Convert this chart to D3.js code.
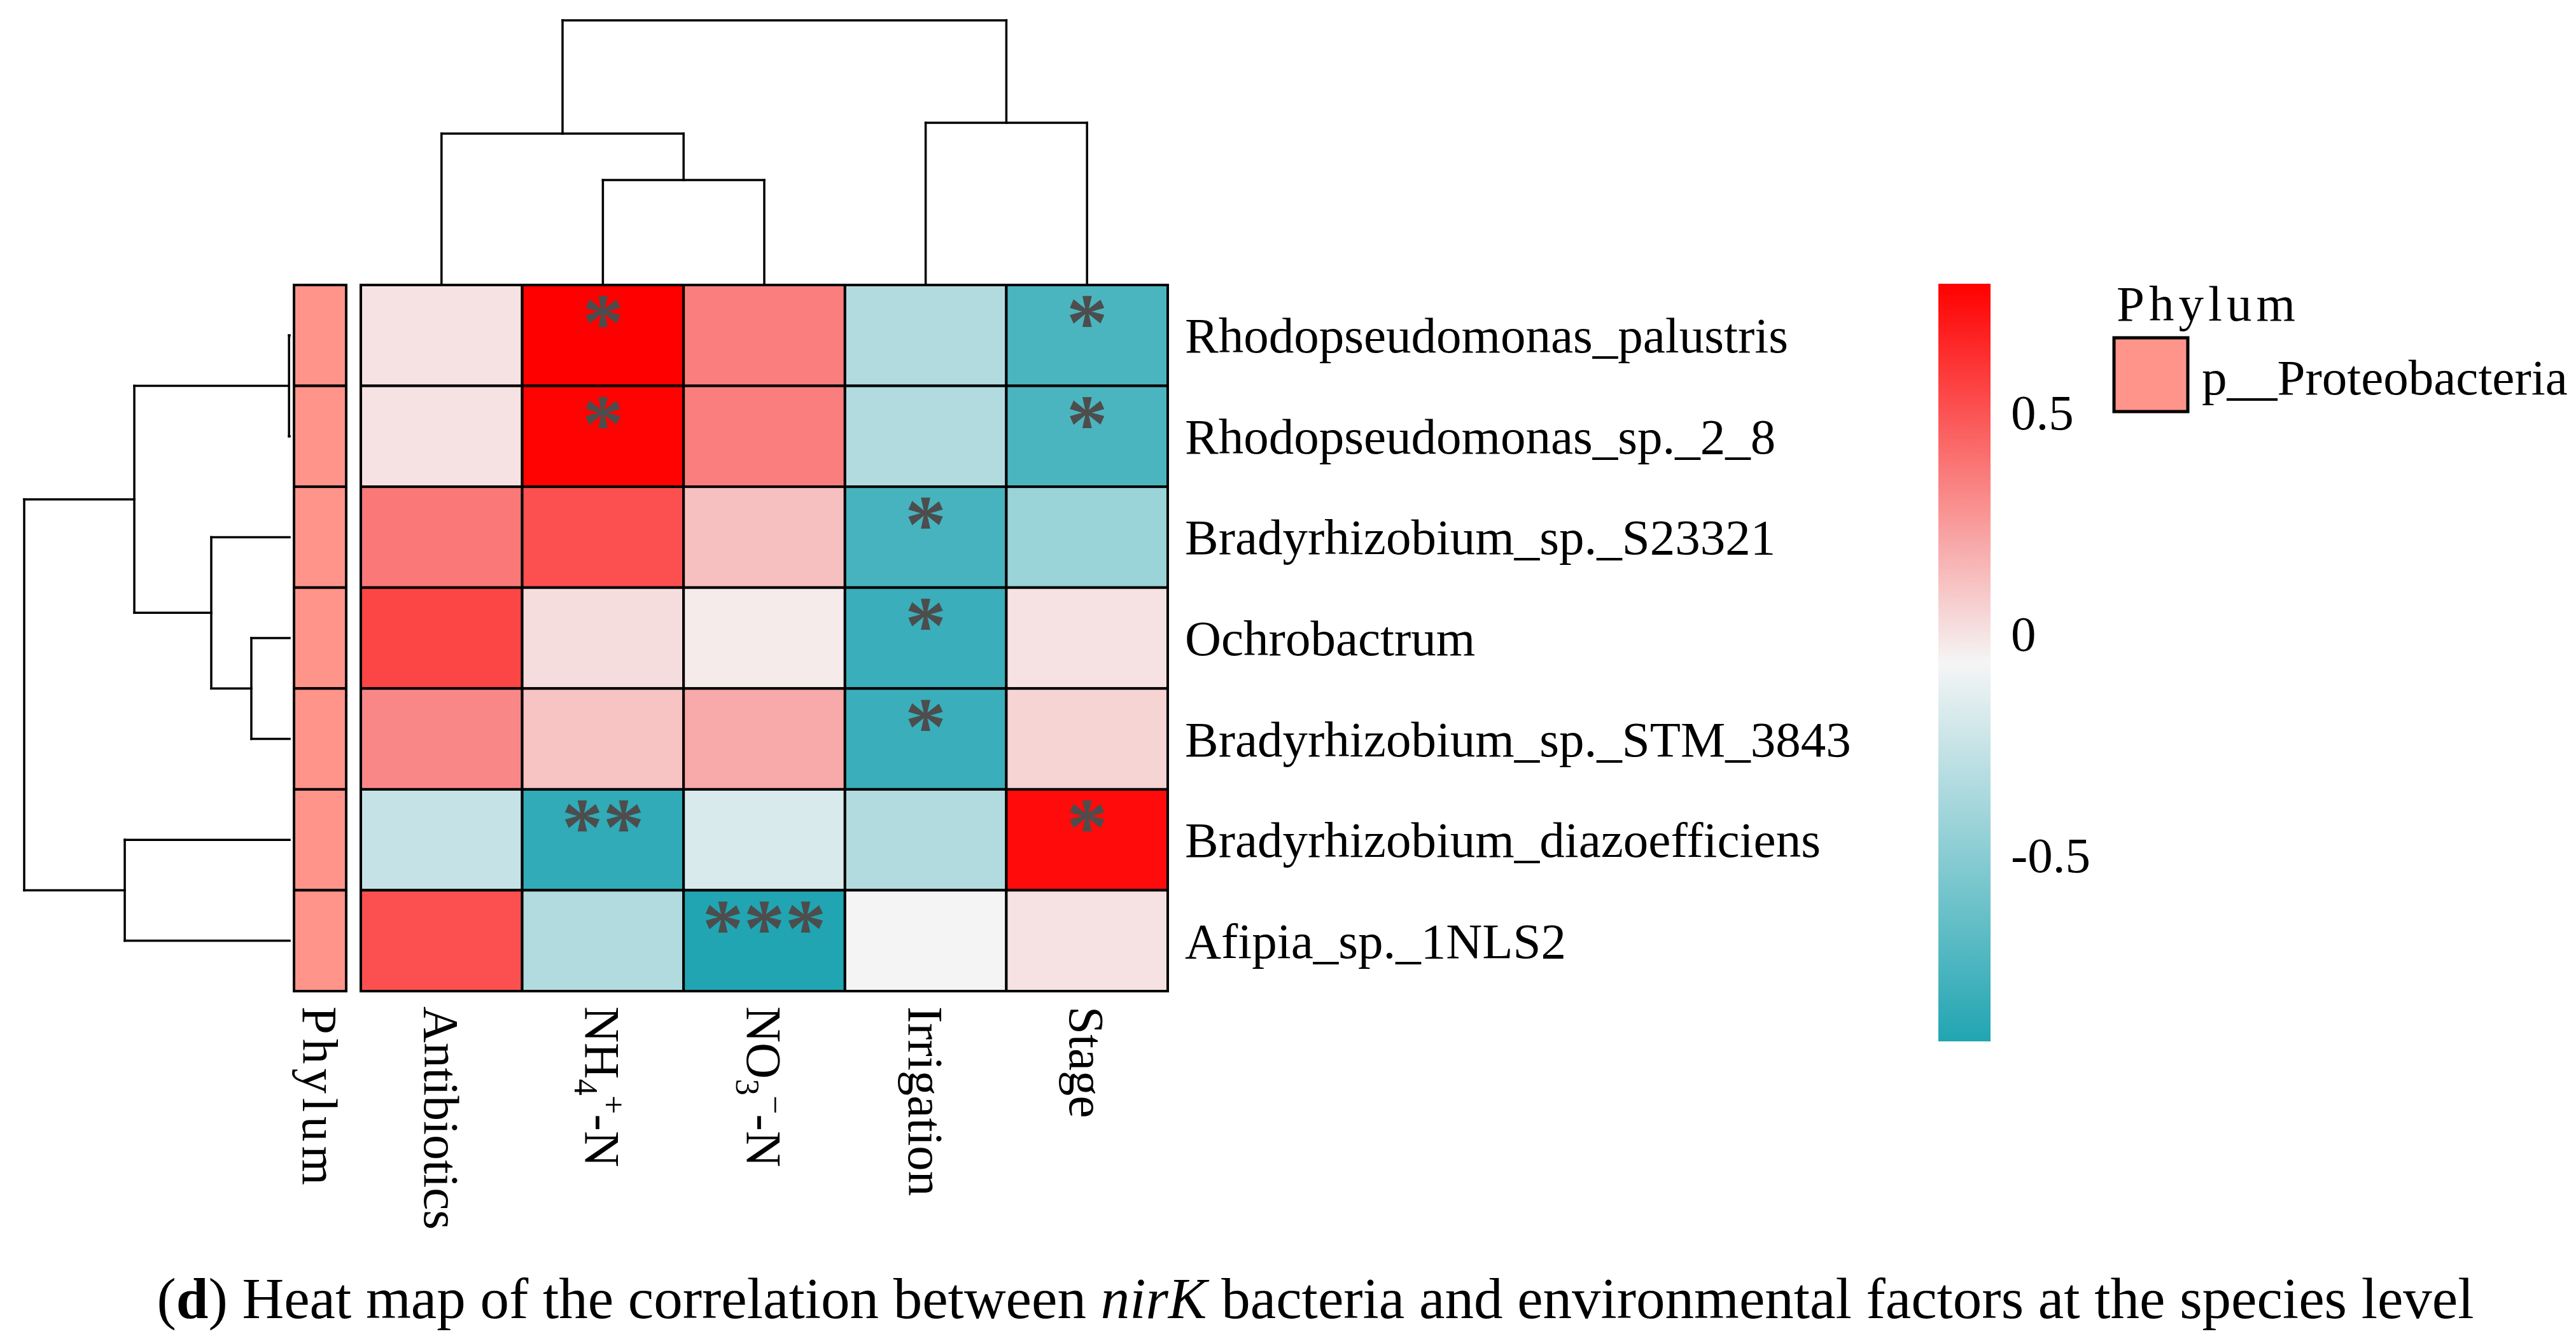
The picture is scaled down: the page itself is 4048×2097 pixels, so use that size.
<!DOCTYPE html>
<html>
<head>
<meta charset="utf-8">
<script src="https://cdnjs.cloudflare.com/ajax/libs/d3/7.8.5/d3.min.js"></script>
<style>
body { margin: 0; background: #fff; }
text { font-family: "Liberation Serif", "Times New Roman", serif; }
</style>
</head>
<body>
<div id="chart"></div>
<script>
var species = ["Rhodopseudomonas_palustris", "Rhodopseudomonas_sp._2_8", "Bradyrhizobium_sp._S23321",
               "Ochrobactrum", "Bradyrhizobium_sp._STM_3843", "Bradyrhizobium_diazoefficiens", "Afipia_sp._1NLS2"];
var factors = ["Antibiotics", "NH4", "NO3", "Irrigation", "Stage"];

// correlation values, rows = species, cols = factors
var values = [[ 0.00,  0.79,  0.35, -0.34, -0.75],
              [ 0.00,  0.78,  0.35, -0.34, -0.75],
              [ 0.37,  0.51,  0.12, -0.77, -0.43],
              [ 0.55,  0.02, -0.03, -0.82,  0.00],
              [ 0.32,  0.11,  0.20, -0.82,  0.05],
              [-0.26, -0.86, -0.18, -0.34,  0.75],
              [ 0.51, -0.34, -0.92, -0.06,  0.00]];

var stars = [["", "*", "", "", "*"],
             ["", "*", "", "", "*"],
             ["", "", "", "*", ""],
             ["", "", "", "*", ""],
             ["", "", "", "*", ""],
             ["", "**", "", "", "*"],
             ["", "", "***", "", ""]];

var phylum = ["p__Proteobacteria", "p__Proteobacteria", "p__Proteobacteria", "p__Proteobacteria",
              "p__Proteobacteria", "p__Proteobacteria", "p__Proteobacteria"];
var phylumLevels = ["p__Proteobacteria"];
var barTicks = [0.5, 0, -0.5];

// clustering trees, merge heights relative to the root
var colTree = {h: 1, c: [{h: 0.571, c: [{leaf: 0}, {h: 0.395, c: [{leaf: 1}, {leaf: 2}]}]},
                         {h: 0.612, c: [{leaf: 3}, {leaf: 4}]}]};
var rowTree = {h: 1, c: [{h: 0.585, c: [{h: 0.002, c: [{leaf: 0}, {leaf: 1}]},
                                        {h: 0.295, c: [{leaf: 2}, {h: 0.144, c: [{leaf: 3}, {leaf: 4}]}]}]},
                         {h: 0.621, c: [{leaf: 5}, {leaf: 6}]}]};

var W = 4048, H = 2097;
var svg = d3.select("#chart").append("svg")
    .attr("width", W).attr("height", H);

var x = d3.scaleBand().domain(factors).range([567, 1835]);
var y = d3.scaleBand().domain(species).range([448, 1558]);
var px = d3.scaleBand().domain(["Phylum"]).range([462, 544]);

var flat = d3.merge(values);
var vmin = d3.min(flat), vmax = d3.max(flat);
var color = d3.scaleLinear()
    .domain([vmin, (vmin + vmax) / 2, vmax])
    .range(["#21A5B2", "#F5F5F5", "#FF0000"]);
var phylumColor = d3.scaleOrdinal().domain(phylumLevels).range(["#FF948A"]);

// heat cells
var cells = [];
values.forEach(function (row, i) {
    row.forEach(function (v, j) {
        cells.push({r: species[i], c: factors[j], v: v, s: stars[i][j]});
    });
});

svg.append("g").selectAll("rect")
    .data(cells)
    .enter().append("rect")
    .attr("x", function (d) { return x(d.c); })
    .attr("y", function (d) { return y(d.r); })
    .attr("width", x.bandwidth())
    .attr("height", y.bandwidth())
    .attr("fill", function (d) { return color(d.v); })
    .attr("stroke", "#000")
    .attr("stroke-width", 4);

svg.append("g").selectAll("text")
    .data(cells.filter(function (d) { return d.s; }))
    .enter().append("text")
    .attr("x", function (d) { return x(d.c) + x.bandwidth() / 2; })
    .attr("y", function (d) { return y(d.r) + y.bandwidth() / 2 + 24; })
    .attr("text-anchor", "middle")
    .attr("font-size", 130)
    .attr("font-weight", "bold")
    .attr("fill", "#4D4D4D")
    .text(function (d) { return d.s; });

// phylum annotation column
svg.append("g").selectAll("rect")
    .data(phylum)
    .enter().append("rect")
    .attr("x", px("Phylum"))
    .attr("y", function (d, i) { return y(species[i]); })
    .attr("width", px.bandwidth())
    .attr("height", y.bandwidth())
    .attr("fill", function (d) { return phylumColor(d); })
    .attr("stroke", "#000")
    .attr("stroke-width", 4);

// row labels
svg.append("g").selectAll("text")
    .data(species)
    .enter().append("text")
    .attr("x", 1862)
    .attr("y", function (d) { return y(d) + y.bandwidth() / 2 + 27; })
    .attr("font-size", 79)
    .text(function (d) { return d; });

// column labels (rotated)
var colParts = {
    "Antibiotics": [["Antibiotics", 0, 79]],
    "NH4": [["NH", 0, 79], ["4", 17, 52], ["+", -44, 52], ["-N", 27, 79]],
    "NO3": [["NO", 0, 79], ["3", 17, 52], ["\u2212", -44, 52], ["-N", 27, 79]],
    "Irrigation": [["Irrigation", 0, 79]],
    "Stage": [["Stage", 0, 79]]
};
var colLab = svg.append("g").selectAll("text")
    .data(factors)
    .enter().append("text")
    .attr("transform", function (d) {
        return "translate(" + (x(d) + x.bandwidth() / 2 - 27) + ",1582) rotate(90)";
    });
colLab.selectAll("tspan")
    .data(function (d) { return colParts[d]; })
    .enter().append("tspan")
    .attr("dy", function (p) { return p[1]; })
    .attr("font-size", function (p) { return p[2]; })
    .text(function (p) { return p[0]; });

svg.append("text")
    .attr("transform", "translate(" + (px("Phylum") + px.bandwidth() / 2 - 27) + ",1582) rotate(90)")
    .attr("font-size", 79)
    .attr("letter-spacing", 7)
    .text("Phylum");

// dendrograms
function walk(node, segs, pos) {
    if (node.leaf !== undefined) return {p: pos(node.leaf), h: 0};
    var kids = node.c.map(function (k) { return walk(k, segs, pos); });
    kids.forEach(function (k) { segs.push({p1: k.p, p2: k.p, h1: k.h, h2: node.h}); });
    segs.push({p1: kids[0].p, p2: kids[1].p, h1: node.h, h2: node.h});
    return {p: (kids[0].p + kids[1].p) / 2, h: node.h};
}

var colH = d3.scaleLinear().domain([0, 1]).range([447, 32]);
var colSegs = [];
walk(colTree, colSegs, function (i) { return x(factors[i]) + x.bandwidth() / 2; });
svg.append("g").selectAll("line")
    .data(colSegs)
    .enter().append("line")
    .attr("x1", function (d) { return d.p1; })
    .attr("x2", function (d) { return d.p2; })
    .attr("y1", function (d) { return colH(d.h1); })
    .attr("y2", function (d) { return colH(d.h2); })
    .attr("stroke", "#000")
    .attr("stroke-width", 3.5)
    .attr("stroke-linecap", "square");

var rowH = d3.scaleLinear().domain([0, 1]).range([455, 38]);
var rowSegs = [];
walk(rowTree, rowSegs, function (i) { return y(species[i]) + y.bandwidth() / 2; });
svg.append("g").selectAll("line")
    .data(rowSegs)
    .enter().append("line")
    .attr("y1", function (d) { return d.p1; })
    .attr("y2", function (d) { return d.p2; })
    .attr("x1", function (d) { return rowH(d.h1); })
    .attr("x2", function (d) { return rowH(d.h2); })
    .attr("stroke", "#000")
    .attr("stroke-width", 3.5)
    .attr("stroke-linecap", "square");

// colour bar
var barY = d3.scaleLinear().domain([vmin, vmax]).range([1637, 446]);
var grad = svg.append("defs").append("linearGradient")
    .attr("id", "bar").attr("x1", 0).attr("x2", 0).attr("y1", 1).attr("y2", 0);
grad.selectAll("stop")
    .data(color.domain())
    .enter().append("stop")
    .attr("offset", function (d) { return (d - vmin) / (vmax - vmin); })
    .attr("stop-color", function (d) { return color(d); });
svg.append("rect")
    .attr("x", 3046).attr("y", barY(vmax))
    .attr("width", 82).attr("height", barY(vmin) - barY(vmax))
    .attr("fill", "url(#bar)");
svg.append("g").selectAll("text")
    .data(barTicks)
    .enter().append("text")
    .attr("x", 3160)
    .attr("y", function (d) { return barY(d) + 27; })
    .attr("font-size", 79)
    .text(function (d) { return d; });

// phylum legend
svg.append("text")
    .attr("x", 3326).attr("y", 504)
    .attr("font-size", 79)
    .attr("letter-spacing", 7)
    .text("Phylum");
var leg = svg.append("g").selectAll("g")
    .data(phylumLevels)
    .enter().append("g");
leg.append("rect")
    .attr("x", 3322).attr("y", 531)
    .attr("width", 116).attr("height", 116)
    .attr("fill", function (d) { return phylumColor(d); })
    .attr("stroke", "#000")
    .attr("stroke-width", 5);
leg.append("text")
    .attr("x", 3460).attr("y", 620)
    .attr("font-size", 79)
    .text(function (d) { return d; });

// caption
var cap = svg.append("text")
    .attr("x", 2067).attr("y", 2072)
    .attr("text-anchor", "middle")
    .attr("font-size", 91);
cap.append("tspan").text("(");
cap.append("tspan").attr("font-weight", "bold").text("d");
cap.append("tspan").text(") Heat map of the correlation between ");
cap.append("tspan").attr("font-style", "italic").text("nirK");
cap.append("tspan").text(" bacteria and environmental factors at the species level");
</script>
</body>
</html>
